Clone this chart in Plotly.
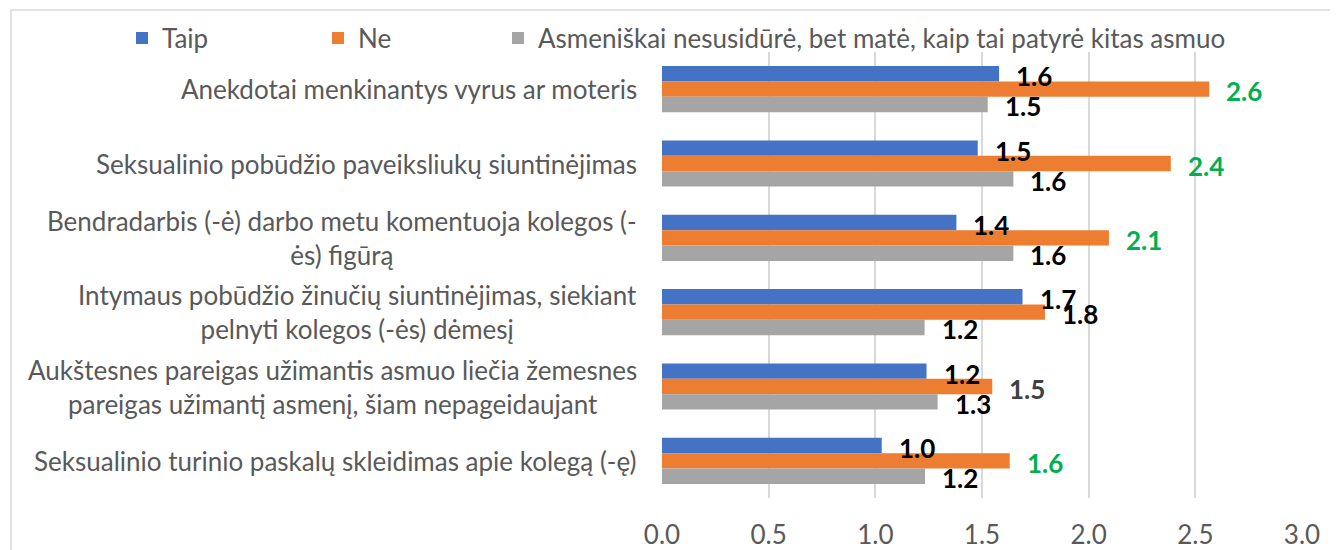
import plotly.graph_objects as go

categories = [
    "Anekdotai menkinantys vyrus ar moteris",
    "Seksualinio pobūdžio paveiksliukų siuntinėjimas",
    "Bendradarbis (-ė) darbo metu komentuoja kolegos (-<br>ės) figūrą",
    "Intymaus pobūdžio žinučių siuntinėjimas, siekiant<br>pelnyti kolegos (-ės) dėmesį",
    "Aukštesnes pareigas užimantis asmuo liečia žemesnes<br>pareigas užimantį asmenį, šiam nepageidaujant",
    "Seksualinio turinio paskalų skleidimas apie kolegą (-ę)",
]
series_names = ["Taip", "Ne", "Asmeniškai nesusidūrė, bet matė, kaip tai patyrė kitas asmuo"]
taip = [1.58, 1.48, 1.38, 1.69, 1.24, 1.03]
ne = [2.565, 2.385, 2.095, 1.795, 1.548, 1.63]
matė = [1.527, 1.647, 1.647, 1.231, 1.292, 1.233]
taip_labels = ["1.6", "1.5", "1.4", "1.7", "1.2", "1.0"]
ne_labels = ["2.6", "2.4", "2.1", "1.8", "1.5", "1.6"]
matė_labels = ["1.5", "1.6", "1.6", "1.2", "1.3", "1.2"]
ne_label_colors = ["#00B050", "#00B050", "#00B050", "#000000", "#404040", "#00B050"]
x_ticks = [0.0, 0.5, 1.0, 1.5, 2.0, 2.5, 3.0]

colors = ["#4472C4", "#ED7D31", "#A5A5A5"]
FONT = "Lato"
GRAY = "#595959"
FS = 26

# figure geometry (page has an 8px body margin)
W, H = 1330, 542
L, R, T, B = 654, 36, 44, 52
PW = W - L - R
PH = H - T - B

legend_ids = ["legend", "legend2", "legend3"]
legend_px = [114, 310, 490]

fig = go.Figure()
for name, vals, col, lid in zip(series_names, [taip, ne, matė], colors, legend_ids):
    fig.add_trace(go.Bar(
        y=categories, x=vals, name=name, orientation="h",
        marker=dict(color=col, line=dict(width=0)),
        hoverinfo="x+name", legend=lid,
    ))

# data labels
shifts = [13, -2, -17]
label_sets = [taip_labels, ne_labels, matė_labels]
color_sets = [["#000000"] * 6, ne_label_colors, ["#000000"] * 6]
for vals, labs, cols, ys in zip([taip, ne, matė], label_sets, color_sets, shifts):
    for cat, v, lab, c in zip(categories, vals, labs, cols):
        fig.add_annotation(
            x=v, y=cat, xref="x", yref="y", text=f"<b>{lab}</b>",
            showarrow=False, xanchor="left", yanchor="middle",
            xshift=15, yshift=ys,
            font=dict(family=FONT, size=FS, color=c),
        )

# category labels (centered multi-line, right-aligned block)
for cat in categories:
    fig.add_annotation(
        x=0, y=cat, xref="paper", yref="y", text=cat,
        showarrow=False, xanchor="right", yanchor="middle", align="center",
        xshift=-23, font=dict(family=FONT, size=FS, color=GRAY),
    )

# outer chart border
fig.add_shape(type="rect", xref="paper", yref="paper",
              x0=(3 - L) / PW, x1=(1360 - L) / PW,
              y0=(PH + T - 600) / PH, y1=(PH + T - 2) / PH,
              line=dict(color="#D9D9D9", width=1.5), fillcolor="rgba(0,0,0,0)")

legend_common = dict(
    orientation="h", xanchor="left",
    y=(PH + T - 30) / PH, yanchor="middle",
    font=dict(family=FONT, size=FS, color=GRAY),
    itemwidth=30, bgcolor="rgba(0,0,0,0)",
)

fig.update_layout(
    width=W, height=H,
    margin=dict(l=L, r=R, t=T, b=B, autoexpand=False),
    paper_bgcolor="white", plot_bgcolor="white",
    barmode="group", bargap=0.38, bargroupgap=0,
    font=dict(family=FONT, size=FS, color=GRAY),
    showlegend=True,
    legend=dict(x=(legend_px[0] - L) / PW, **legend_common),
    legend2=dict(x=(legend_px[1] - L) / PW, **legend_common),
    legend3=dict(x=(legend_px[2] - L) / PW, **legend_common),
    xaxis=dict(
        range=[0, 3], tickvals=x_ticks, ticktext=[f"{t:.1f}" for t in x_ticks],
        showgrid=True, gridcolor="#D9D9D9", gridwidth=1.5,
        zeroline=False, showline=False, ticks="",
        tickfont=dict(family=FONT, size=FS, color=GRAY),
        ticklabelstandoff=19,
    ),
    yaxis=dict(
        autorange="reversed", showticklabels=False, showgrid=False,
        zeroline=False, showline=False, ticks="",
    ),
)

fig.write_html("out.html")
